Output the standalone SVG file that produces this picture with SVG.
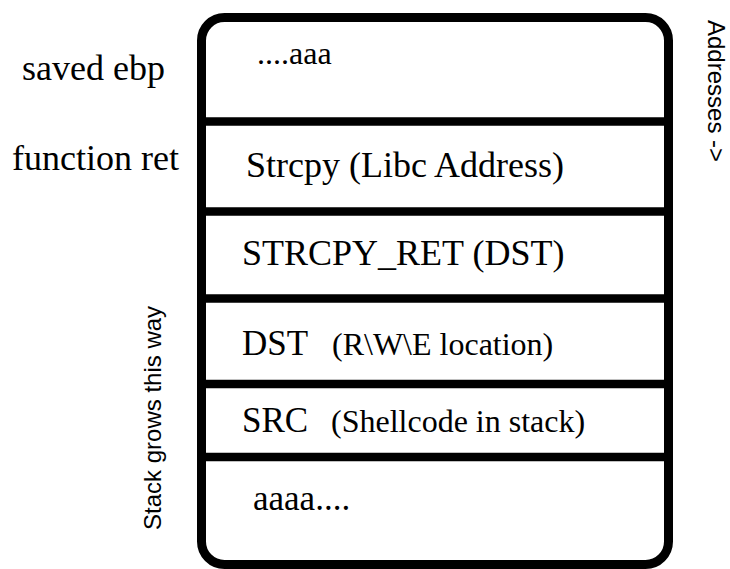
<svg xmlns="http://www.w3.org/2000/svg" width="730" height="569" viewBox="0 0 730 569">
  <style>
    .box { fill: #ffffff; stroke: #000000; stroke-width: 9; }
    .div { stroke: #000000; stroke-width: 8.5; }
    .serif { font-family: "Liberation Serif", "Times New Roman", serif; fill: #000000; }
    .sans { font-family: "Liberation Sans", Arial, sans-serif; fill: #000000; font-size: 24px; }
    .big { font-size: 36px; }
    .mid { font-size: 35px; }
    .small { font-size: 32px; }
  </style>
  <rect width="730" height="569" fill="#ffffff"/>
  <g id="stack-frame">
    <rect class="box" x="201.5" y="17.5" width="467" height="547" rx="23" ry="23"/>
  </g>
  <g id="connectors">
    <line class="div" x1="201.5" y1="121.5" x2="668.5" y2="121.5"/>
    <line class="div" x1="201.5" y1="211.5" x2="668.5" y2="211.5"/>
    <line class="div" x1="201.5" y1="298.5" x2="668.5" y2="298.5"/>
    <line class="div" x1="201.5" y1="384" x2="668.5" y2="384"/>
    <line class="div" x1="201.5" y1="457" x2="668.5" y2="457"/>
  </g>
  <g id="row-saved-ebp">
    <text class="serif small" x="257" y="64">....aaa</text>
  </g>
  <g id="row-strcpy">
    <text class="serif big" x="246" y="177">Strcpy (Libc Address)</text>
  </g>
  <g id="row-strcpy-ret">
    <text class="serif big" x="242" y="265">STRCPY_RET (DST)</text>
  </g>
  <g id="row-dst">
    <text class="serif mid" x="242" y="355">DST</text>
    <text class="serif small" x="332" y="355">(R\W\E location)</text>
  </g>
  <g id="row-src">
    <text class="serif mid" x="242" y="432">SRC</text>
    <text class="serif small" x="331" y="432">(Shellcode in stack)</text>
  </g>
  <g id="row-aaaa">
    <text class="serif mid" x="253" y="510">aaaa....</text>
  </g>
  <g id="label-saved-ebp">
    <text class="serif big" x="22" y="80">saved ebp</text>
  </g>
  <g id="label-function-ret">
    <text class="serif big" x="12" y="170">function ret</text>
  </g>
  <g id="label-stack-grows">
    <text class="sans" transform="translate(161,530) rotate(-90)">Stack grows this way</text>
  </g>
  <g id="label-addresses">
    <text class="sans" transform="translate(708,20) rotate(90)">Addresses -&gt;</text>
  </g>
</svg>
